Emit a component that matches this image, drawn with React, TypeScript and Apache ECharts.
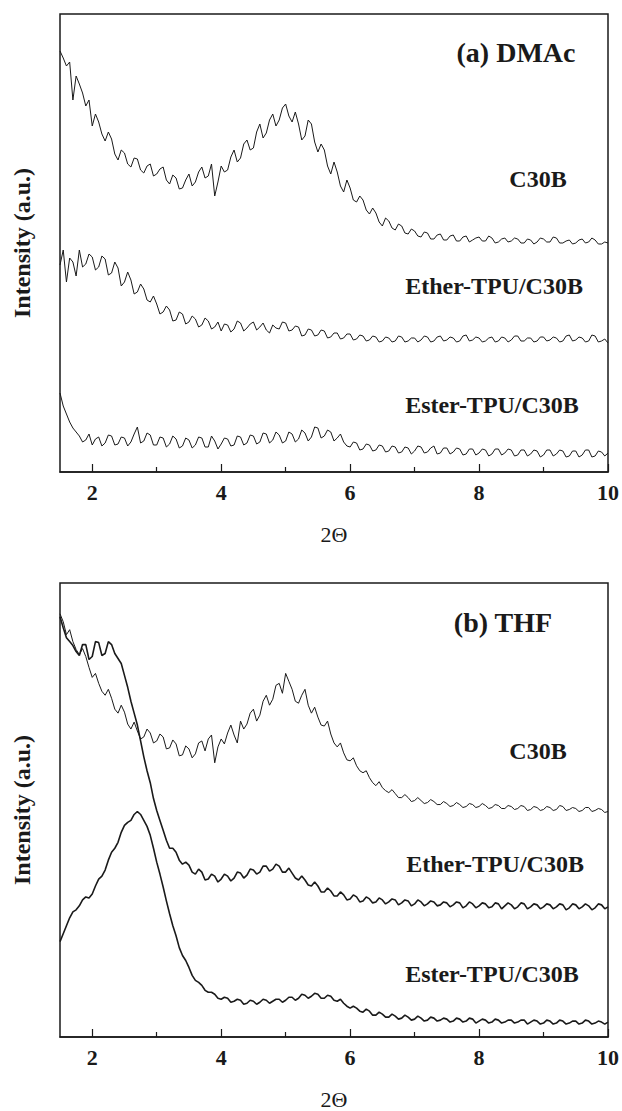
import React, { useEffect, useRef } from "react";
import * as echarts from "echarts";

// 2θ sampling positions (degrees)
const THETA = [
  1.5, 1.55, 1.6, 1.65, 1.7, 1.75, 1.8, 1.85, 1.9, 1.95, 2.0, 2.05, 2.1, 2.15, 2.2, 2.25, 2.3, 2.35, 2.4, 2.45,
  2.5, 2.55, 2.6, 2.65, 2.7, 2.75, 2.8, 2.85, 2.9, 2.95, 3.0, 3.05, 3.1, 3.15, 3.2, 3.25, 3.3, 3.35, 3.4, 3.45,
  3.5, 3.55, 3.6, 3.65, 3.7, 3.75, 3.8, 3.85, 3.9, 3.95, 4.0, 4.05, 4.1, 4.15, 4.2, 4.25, 4.3, 4.35, 4.4, 4.45,
  4.5, 4.55, 4.6, 4.65, 4.7, 4.75, 4.8, 4.85, 4.9, 4.95, 5.0, 5.05, 5.1, 5.15, 5.2, 5.25, 5.3, 5.35, 5.4, 5.45,
  5.5, 5.55, 5.6, 5.65, 5.7, 5.75, 5.8, 5.85, 5.9, 5.95, 6.0, 6.05, 6.1, 6.15, 6.2, 6.25, 6.3, 6.35, 6.4, 6.45,
  6.5, 6.55, 6.6, 6.65, 6.7, 6.75, 6.8, 6.85, 6.9, 6.95, 7.0, 7.05, 7.1, 7.15, 7.2, 7.25, 7.3, 7.35, 7.4, 7.45,
  7.5, 7.55, 7.6, 7.65, 7.7, 7.75, 7.8, 7.85, 7.9, 7.95, 8.0, 8.05, 8.1, 8.15, 8.2, 8.25, 8.3, 8.35, 8.4, 8.45,
  8.5, 8.55, 8.6, 8.65, 8.7, 8.75, 8.8, 8.85, 8.9, 8.95, 9.0, 9.05, 9.1, 9.15, 9.2, 9.25, 9.3, 9.35, 9.4, 9.45,
  9.5, 9.55, 9.6, 9.65, 9.7, 9.75, 9.8, 9.85, 9.9, 9.95, 10.0,
];

// (a) DMAc — stacked intensities (a.u.)
const DMAC_C30B = [
  421, 414, 406, 410, 372, 396, 388, 379, 366, 372, 346, 358, 350, 338, 331, 340, 333, 318, 312, 322,
  319, 308, 305, 314, 313, 302, 299, 306, 308, 296, 298, 303, 305, 292, 288, 297, 294, 283, 284, 292,
  298, 286, 290, 300, 305, 294, 296, 308, 276, 290, 306, 300, 302, 315, 322, 310, 314, 328, 332, 322,
  324, 340, 348, 334, 339, 352, 358, 346, 352, 364, 368, 356, 350, 360, 348, 332, 336, 352, 348, 330,
  320, 328, 322, 306, 298, 310, 300, 286, 280, 292, 284, 272, 270, 276, 272, 262, 258, 264, 259, 250,
  246, 254, 251, 244, 242, 248, 246, 239, 238, 243, 241, 236, 235, 240, 239, 233, 233, 237, 238, 232,
  232, 236, 237, 231, 231, 235, 236, 230, 232, 234, 235, 231, 231, 236, 234, 229, 230, 233, 234, 230,
  231, 234, 233, 229, 229, 233, 232, 228, 230, 234, 233, 230, 230, 235, 234, 229, 229, 231, 232, 228,
  229, 232, 233, 229, 230, 234, 232, 228, 228, 230, 229,
];
const DMAC_ETHER = [
  207, 222, 190, 214, 210, 196, 222, 205, 208, 218, 215, 202, 205, 216, 213, 197, 199, 210, 204, 186,
  190, 200, 192, 178, 180, 188, 183, 172, 170, 176, 168, 158, 160, 166, 162, 151, 152, 160, 158, 148,
  150, 156, 153, 145, 147, 154, 151, 143, 145, 150, 141, 148, 147, 140, 143, 151, 149, 141, 144, 148,
  150, 142, 145, 149, 142, 139, 147, 144, 143, 150, 149, 141, 142, 146, 145, 136, 137, 143, 142, 136,
  137, 142, 141, 134, 135, 139, 139, 133, 134, 138, 138, 132, 133, 137, 136, 131, 132, 136, 135, 130,
  131, 135, 134, 130, 131, 136, 135, 130, 131, 134, 134, 130, 132, 136, 135, 130, 131, 135, 136, 131,
  132, 135, 134, 130, 131, 136, 137, 131, 132, 135, 134, 130, 131, 134, 135, 130, 131, 135, 134, 130,
  132, 136, 136, 131, 131, 134, 134, 130, 131, 135, 135, 131, 132, 135, 134, 130, 131, 136, 137, 131,
  132, 135, 134, 130, 131, 137, 136, 130, 131, 133, 129,
];
const DMAC_ESTER = [
  79, 66, 58, 50, 44, 40, 36, 30, 32, 38, 27, 33, 35, 26, 29, 37, 36, 27, 28, 35,
  34, 26, 30, 38, 45, 29, 31, 39, 37, 27, 27, 35, 34, 25, 28, 36, 33, 24, 26, 34,
  32, 24, 27, 35, 34, 25, 25, 36, 31, 23, 28, 34, 33, 26, 27, 36, 35, 27, 29, 37,
  36, 28, 30, 39, 38, 29, 32, 40, 37, 29, 31, 40, 38, 30, 33, 42, 39, 31, 35, 45,
  44, 34, 36, 42, 40, 31, 34, 38, 30, 26, 25, 30, 29, 22, 23, 28, 27, 21, 22, 27,
  26, 20, 21, 26, 25, 19, 20, 25, 24, 18, 21, 26, 25, 19, 20, 24, 26, 18, 19, 24,
  24, 18, 20, 24, 23, 17, 18, 23, 23, 17, 19, 23, 22, 16, 18, 23, 23, 17, 19, 23,
  22, 16, 17, 22, 22, 16, 18, 22, 21, 15, 17, 22, 22, 16, 18, 22, 21, 15, 16, 21,
  21, 15, 17, 22, 22, 15, 16, 21, 20, 16, 19,
];

// (b) THF — stacked intensities (a.u.)
const THF_C30B = [
  426, 418, 405, 410, 398, 390, 385, 391, 383, 372, 362, 366, 356, 348, 344, 350, 341, 330, 326, 334,
  327, 315, 310, 317, 308, 300, 302, 310, 306, 296, 298, 305, 302, 290, 291, 299, 295, 283, 284, 293,
  290, 281, 285, 296, 298, 288, 300, 304, 276, 292, 300, 295, 306, 314, 304, 296, 318, 310, 315, 326,
  330, 318, 324, 338, 344, 334, 340, 354, 356, 346, 366, 358, 350, 338, 336, 344, 350, 334, 326, 332,
  322, 314, 313, 318, 305, 296, 292, 296, 286, 279, 278, 281, 273, 268, 266, 268, 261, 256, 253, 257,
  251, 248, 246, 249, 245, 241, 241, 244, 241, 237, 238, 241, 238, 235, 236, 239, 237, 234, 234, 237,
  235, 232, 233, 236, 234, 231, 232, 235, 234, 231, 232, 235, 233, 230, 231, 234, 233, 230, 230, 233,
  232, 229, 230, 233, 232, 228, 229, 232, 231, 228, 229, 232, 231, 228, 229, 233, 232, 228, 229, 231,
  230, 227, 228, 231, 231, 227, 228, 230, 229, 226, 227,
];
const THF_ETHER = [
  423, 412, 402, 398, 394, 388, 384, 395, 395, 380, 383, 398, 397, 384, 386, 398, 395, 386, 381, 376,
  364, 352, 338, 326, 314, 298, 282, 268, 256, 240, 228, 218, 208, 198, 190, 190, 186, 178, 174, 176,
  173, 166, 164, 169, 166, 158, 159, 164, 162, 156, 159, 164, 162, 157, 160, 166, 165, 160, 163, 169,
  168, 164, 166, 172, 172, 167, 169, 174, 172, 166, 166, 170, 165, 160, 158, 162, 158, 153, 152, 156,
  152, 146, 146, 150, 147, 142, 142, 146, 143, 138, 139, 143, 141, 136, 137, 141, 139, 135, 136, 140,
  138, 134, 136, 139, 138, 133, 135, 138, 137, 132, 134, 138, 136, 132, 134, 137, 136, 132, 133, 136,
  135, 131, 133, 136, 135, 130, 132, 136, 134, 130, 132, 135, 134, 130, 131, 135, 134, 129, 132, 135,
  133, 129, 131, 135, 134, 129, 131, 134, 133, 129, 131, 134, 133, 129, 131, 134, 133, 128, 130, 134,
  133, 129, 131, 134, 132, 128, 130, 134, 133, 129, 131,
];
const THF_ESTER = [
  96, 104, 112, 120, 126, 128, 132, 138, 141, 140, 144, 152, 159, 162, 168, 178, 186, 190, 196, 206,
  213, 216, 218, 224, 227, 224, 218, 212, 203, 190, 176, 164, 151, 137, 124, 112, 102, 90, 82, 77,
  70, 62, 57, 55, 52, 47, 45, 45, 43, 39, 38, 40, 39, 35, 36, 38, 37, 33, 34, 37,
  36, 33, 35, 38, 37, 34, 36, 38, 38, 35, 37, 40, 40, 37, 39, 43, 42, 39, 41, 44,
  43, 39, 39, 42, 41, 37, 36, 38, 34, 31, 29, 31, 29, 26, 25, 28, 26, 22, 22, 25,
  23, 20, 20, 23, 21, 18, 19, 22, 20, 17, 18, 21, 19, 16, 17, 20, 19, 16, 17, 19,
  18, 15, 16, 19, 18, 15, 16, 19, 18, 14, 16, 18, 17, 14, 15, 18, 17, 14, 15, 17,
  17, 14, 15, 17, 17, 13, 15, 17, 16, 13, 14, 17, 16, 13, 14, 17, 16, 13, 14, 16,
  16, 13, 14, 17, 16, 13, 14, 16, 15, 13, 15,
];

const MAJOR_TICKS = [2, 4, 6, 8, 10];
const MINOR_TICKS = [3, 5, 7, 9];
const PANEL_TITLES = ["(a) DMAc", "(b) THF"];
const SERIES_NAMES = ["C30B", "Ether-TPU/C30B", "Ester-TPU/C30B"];

const FONT = "'Liberation Serif', 'Times New Roman', serif";
const INK = "#1a1a1a";

export default function App() {
  const ref = useRef<HTMLDivElement>(null);

  useEffect(() => {
    document.body.style.margin = "0";
    const chart = echarts.init(ref.current!, null, { renderer: "svg" });
    const pair = (ys: number[]) => THETA.map((x, i) => [x, ys[i]]);

    const grids = [
      { left: 60, top: 14, width: 549, height: 458 },
      { left: 60, top: 583, width: 549, height: 457 },
    ];
    const panels = [
      [DMAC_C30B, DMAC_ETHER, DMAC_ESTER],
      [THF_C30B, THF_ETHER, THF_ESTER],
    ];

    const xAxis: any[] = [];
    const yAxis: any[] = [];
    const series: any[] = [];
    grids.forEach((g, i) => {
      xAxis.push({
        gridIndex: i,
        type: "value",
        min: 1.5,
        max: 10,
        position: "bottom",
        axisLine: { show: true, onZero: false, lineStyle: { color: INK, width: 1.5 } },
        axisTick: {
          show: true,
          inside: true,
          length: 8,
          customValues: MAJOR_TICKS,
          lineStyle: { color: INK, width: 1.2 },
        },
        axisLabel: {
          customValues: MAJOR_TICKS,
          fontFamily: FONT,
          fontWeight: "bold",
          fontSize: 22,
          color: INK,
          margin: 9,
        },
        splitLine: { show: false },
        name: "2\u0398",
        nameLocation: "middle",
        nameGap: 51,
        nameTextStyle: { fontFamily: FONT, fontSize: 22, color: INK },
      });
      xAxis.push({
        gridIndex: i,
        type: "value",
        min: 1.5,
        max: 10,
        position: "bottom",
        axisLine: { show: false, onZero: false },
        axisTick: {
          show: true,
          inside: true,
          length: 5,
          customValues: MINOR_TICKS,
          lineStyle: { color: INK, width: 1.2 },
        },
        axisLabel: { show: false },
        splitLine: { show: false },
      });
      yAxis.push({
        gridIndex: i,
        type: "value",
        min: 0,
        max: g.height,
        axisLine: { show: false },
        axisTick: { show: false },
        axisLabel: { show: false },
        splitLine: { show: false },
        name: "Intensity (a.u.)",
        nameLocation: "middle",
        nameGap: 26,
        nameTextStyle: { fontFamily: FONT, fontWeight: "bold", fontSize: 24, color: INK },
      });
      panels[i].forEach((ys, k) => {
        series.push({
          type: "line",
          name: SERIES_NAMES[k] + " " + PANEL_TITLES[i],
          xAxisIndex: i * 2,
          yAxisIndex: i,
          data: pair(ys),
          showSymbol: false,
          symbol: "none",
          lineStyle: { color: INK, width: i === 1 && k > 0 ? 1.6 : 1 },
        });
      });
    });

    const label = (text: string, cx: number, cy: number, size: number) => ({
      type: "text",
      x: cx,
      y: cy,
      style: {
        text,
        font: `bold ${size}px ${FONT}`,
        fill: INK,
        align: "center",
        verticalAlign: "middle",
        textAlign: "center",
        textVerticalAlign: "middle",
      },
    });

    chart.setOption({
      animation: false,
      backgroundColor: "#ffffff",
      grid: grids.map((g) => ({
        ...g,
        show: true,
        borderColor: INK,
        borderWidth: 1.5,
        backgroundColor: "transparent",
        containLabel: false,
      })),
      xAxis,
      yAxis,
      series,
      graphic: [
        label(PANEL_TITLES[0], 516, 52, 28),
        label(SERIES_NAMES[0], 538, 179, 24),
        label(SERIES_NAMES[1], 494, 286, 24),
        label(SERIES_NAMES[2], 492, 405, 24),
        label(PANEL_TITLES[1], 503, 622, 28),
        label(SERIES_NAMES[0], 538, 751, 24),
        label(SERIES_NAMES[1], 495, 864, 24),
        label(SERIES_NAMES[2], 492, 974, 24),
      ],
    });

    return () => chart.dispose();
  }, []);

  return (
    <div
      ref={ref}
      style={{ position: "absolute", left: 0, top: 0, width: 622, height: 1111 }}
    />
  );
}
